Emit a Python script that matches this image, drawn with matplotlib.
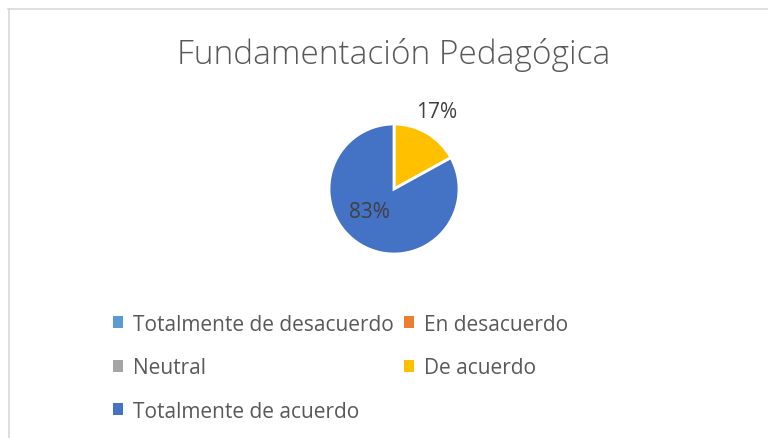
import matplotlib
matplotlib.use('Agg')
from matplotlib import pyplot
from matplotlib.patches import Patch

# data
categorias = ['Totalmente de desacuerdo', 'En desacuerdo', 'Neutral',
              'De acuerdo', 'Totalmente de acuerdo']
porcentajes = [0, 0, 0, 17, 83]
colores = ['#5B9BD5', '#ED7D31', '#A5A5A5', '#FFC000', '#4472C4']
titulo = 'Fundamentación Pedagógica'

pyplot.rcParams['font.family'] = ['Open Sans', 'DejaVu Sans']
gris = '#595959'

fig = pyplot.figure(figsize=(7.68, 4.39), dpi=100)

# chart border (top and left visible)
fig.add_artist(pyplot.Line2D([8 / 768, 1.0], [1 - 10 / 439, 1 - 10 / 439],
                             color='#D9D9D9', lw=1.2))
fig.add_artist(pyplot.Line2D([9 / 768, 9 / 768], [0, 1 - 10 / 439],
                             color='#D9D9D9', lw=1.2))

fig.text(394 / 768, 1 - 55 / 439, titulo, ha='center', va='center',
         fontsize=24, color=gris, fontweight='light')

# pie axes: center (394,190), radius 65 px
r = 65
cx, cy = 394, 190
ax = fig.add_axes([(cx - r) / 768, 1 - (cy + r) / 439, 2 * r / 768, 2 * r / 439])
vals = [v for v in porcentajes if v > 0]
cols = [c for v, c in zip(porcentajes, colores) if v > 0]
wedges, _ = ax.pie(vals, colors=cols, startangle=90, counterclock=False,
                   radius=1.0, wedgeprops=dict(edgecolor='white', linewidth=2))
ax.set_xlim(-1, 1)
ax.set_ylim(-1, 1)
ax.set_aspect('equal')

# data labels
fig.text(437 / 768, 1 - 113 / 439, f'{vals[0]}%', ha='center', va='center',
         fontsize=15, color='#404040')
fig.text(369 / 768, 1 - 213 / 439, f'{vals[1]}%', ha='center', va='center',
         fontsize=15, color='#404040')

# legend, row-wise order in two columns
handles = [Patch(facecolor=c, edgecolor='none') for c in colores]
orden = [0, 2, 4, 1, 3]
leg = fig.legend([handles[i] for i in orden], [categorias[i] for i in orden],
                 ncol=2, loc='upper left', bbox_to_anchor=(94 / 768, 1 - 296 / 439),
                 frameon=False, fontsize=15, handlelength=0.5, handleheight=0.5,
                 handletextpad=0.45, columnspacing=0.5, labelspacing=1.08,
                 labelcolor=gris)

fig.savefig('out.png', dpi=100)
